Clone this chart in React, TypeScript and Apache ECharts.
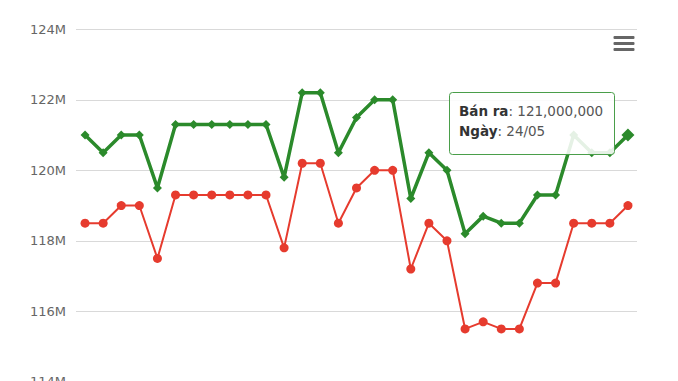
import React, { useEffect, useRef } from "react";
import * as echarts from "echarts";

const dates: string[] = [
  "27/04", "28/04", "29/04", "30/04", "01/05", "02/05", "03/05", "04/05", "05/05", "06/05",
  "07/05", "08/05", "09/05", "10/05", "11/05", "12/05", "13/05", "14/05", "15/05", "16/05",
  "17/05", "18/05", "19/05", "20/05", "21/05", "22/05", "23/05", "24/05", "25/05", "26/05", "27/05",
];

// Bán ra (sell), millions
const sellM: number[] = [
  121.0, 120.5, 121.0, 121.0, 119.5, 121.3, 121.3, 121.3, 121.3, 121.3,
  121.3, 119.8, 122.2, 122.2, 120.5, 121.5, 122.0, 122.0, 119.2, 120.5,
  120.0, 118.2, 118.7, 118.5, 118.5, 119.3, 119.3, 121.0, 120.5, 120.5, 121.0,
];

// Mua vào (buy), millions
const buyM: number[] = [
  118.5, 118.5, 119.0, 119.0, 117.5, 119.3, 119.3, 119.3, 119.3, 119.3,
  119.3, 117.8, 120.2, 120.2, 118.5, 119.5, 120.0, 120.0, 117.2, 118.5,
  118.0, 115.5, 115.7, 115.5, 115.5, 116.8, 116.8, 118.5, 118.5, 118.5, 119.0,
];

const yTicksM: number[] = [114, 116, 118, 120, 122, 124];

const tipIndex = 27;

const GREEN = "#2b8a2b";
const RED = "#e63b2e";

export default function App() {
  const ref = useRef<HTMLDivElement>(null);
  useEffect(() => {
    if (!ref.current) return;
    const chart = echarts.init(ref.current, undefined, { renderer: "svg" });
    const fmt = (v: number) => Math.round(v * 1e6).toLocaleString("en-US");
    const last = sellM.length - 1;
    chart.setOption({
      animation: false,
      backgroundColor: "#ffffff",
      grid: {
        left: 76,
        right: 41,
        top: 29.3,
        height: 352.5,
        containLabel: false,
        outerBoundsMode: "none",
      },
      xAxis: {
        type: "category",
        data: dates,
        boundaryGap: true,
        axisLine: { show: false },
        axisTick: { show: false },
        axisLabel: { show: false },
      },
      yAxis: {
        type: "value",
        min: yTicksM[0] * 1e6,
        max: yTicksM[yTicksM.length - 1] * 1e6,
        interval: 2e6,
        axisLine: { show: false },
        axisTick: { show: false },
        axisLabel: {
          formatter: (v: number) => `${Math.round(v / 1e6)}M`,
          color: "#666666",
          fontSize: 13,
          fontFamily: "DejaVu Sans",
          margin: 10,
        },
        splitLine: { lineStyle: { color: "#d9d9d9", width: 1 } },
      },
      series: [
        {
          name: "Mua vào",
          type: "line",
          data: buyM.map((v) => v * 1e6),
          symbol: "circle",
          symbolSize: 9,
          showSymbol: true,
          showAllSymbol: true,
          lineStyle: { color: RED, width: 2 },
          itemStyle: { color: RED },
          z: 2,
        },
        {
          name: "Bán ra",
          type: "line",
          data: sellM.map((v, i) =>
            i === last ? { value: v * 1e6, symbolSize: 13 } : { value: v * 1e6 }
          ),
          symbol: "diamond",
          symbolSize: 9,
          showSymbol: true,
          showAllSymbol: true,
          lineStyle: { color: GREEN, width: 3.5 },
          itemStyle: { color: GREEN },
          z: 3,
        },
      ],
      graphic: [
        // menu icon
        { type: "rect", shape: { x: 613.5, y: 36, width: 21, height: 3, r: 1 }, style: { fill: "#666666" }, z: 10 },
        { type: "rect", shape: { x: 613.5, y: 42, width: 21, height: 3, r: 1 }, style: { fill: "#666666" }, z: 10 },
        { type: "rect", shape: { x: 613.5, y: 48, width: 21, height: 3, r: 1 }, style: { fill: "#666666" }, z: 10 },
        // tooltip
        {
          type: "rect",
          shape: { x: 449.5, y: 92.5, width: 165, height: 62, r: 3 },
          style: { fill: "rgba(255,255,255,0.88)", stroke: "#4a9e4a", lineWidth: 1 },
          z: 20,
        },
        {
          type: "text",
          x: 459,
          y: 101,
          z: 21,
          style: {
            text: `{b|Bán ra}: ${fmt(sellM[tipIndex])}\n{b|Ngày}: ${dates[tipIndex]}`,
            fontFamily: "DejaVu Sans",
            fontSize: 13.5,
            lineHeight: 20,
            fill: "#555555",
            rich: {
              b: { fontWeight: "bold", fill: "#333333", fontSize: 13.5, fontFamily: "DejaVu Sans", lineHeight: 20 },
            },
          },
        },
      ],
    });
    return () => chart.dispose();
  }, []);
  return (
    <div
      ref={ref}
      style={{ position: "absolute", left: 0, top: 0, width: 678, height: 381 }}
    />
  );
}
